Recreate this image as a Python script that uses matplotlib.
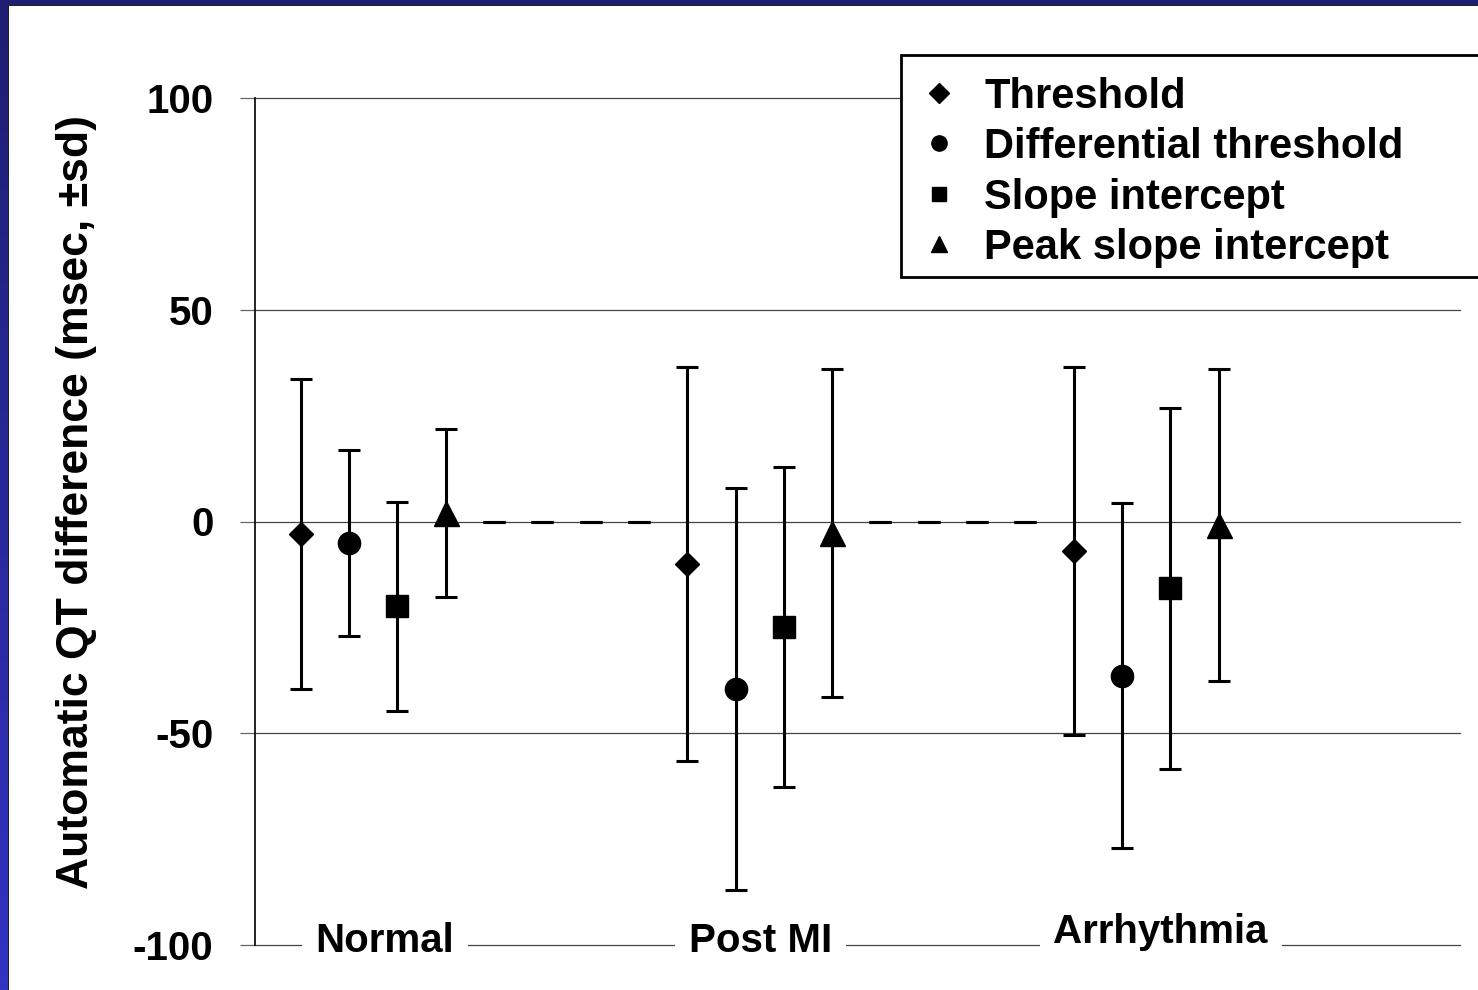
import numpy as np
import matplotlib
matplotlib.use("Agg")
import matplotlib.pyplot as plt
from matplotlib.lines import Line2D
from matplotlib.patches import Rectangle

plt.rcParams["font.family"] = ["Liberation Sans", "DejaVu Sans"]
plt.rcParams["font.weight"] = "bold"
plt.rcParams["axes.unicode_minus"] = False

# groups and methods
groups = ["Normal", "Post MI", "Arrhythmia"]
methods = ["Threshold", "Differential threshold", "Slope intercept", "Peak slope intercept"]
markers = ["D", "o", "s", "^"]
marker_sizes = [12.5, 16, 16, 18]

# mean and sd per method, one value per group (msec)
threshold_mean = [-3, -10, -7]
threshold_sd = [36.6, 46.5, 43.5]
diff_threshold_mean = [-5, -39.6, -36.4]
diff_threshold_sd = [22, 47.4, 40.7]
slope_mean = [-20, -25, -15.8]
slope_sd = [24.7, 37.8, 42.6]
peak_slope_mean = [2, -2.8, -0.9]
peak_slope_sd = [19.9, 38.7, 36.8]

means = [threshold_mean, diff_threshold_mean, slope_mean, peak_slope_mean]
sds = [threshold_sd, diff_threshold_sd, slope_sd, peak_slope_sd]

# empty (blank) series between groups, plotted as zero with zero sd
blank_mean = [0, 0, 0, 0]
blank_sd = [0, 0, 0, 0]

SLOTS_PER_GROUP = 8
W, H = 1478, 990

fig = plt.figure(figsize=(W / 100, H / 100), dpi=100)
fig.patch.set_facecolor("white")

# blue slide frame (top band + left gradient band)
fig.patches.append(Rectangle((0, 1 - 5 / H), 1, 5 / H, transform=fig.transFigure,
                             facecolor="#1e1e72", edgecolor="none", zorder=0))
grad = np.linspace(0, 1, H)[:, None]
top_c = np.array([0x1e, 0x1e, 0x72]) / 255
bot_c = np.array([0x33, 0x33, 0xc4]) / 255
band = top_c + (bot_c - top_c) * grad
band = np.repeat(band[:, None, :], 8, axis=1)
fig.figimage(band[::-1], xo=0, yo=0, origin="lower", zorder=0)
fig.patches.append(Rectangle((8 / W, 0), 1 / W, 1 - 4 / H, transform=fig.transFigure,
                             facecolor="#222222", edgecolor="none", zorder=1))
fig.patches.append(Rectangle((8 / W, 1 - 6 / H), 1 - 8 / W, 1 / H, transform=fig.transFigure,
                             facecolor="#222222", edgecolor="none", zorder=1))

ax = fig.add_axes([255 / W, 45 / H, (1460 - 255) / W, (945 - 98) / H])

err_kw = dict(ecolor="black", elinewidth=2.2, capsize=8, capthick=2.2)

for gi, g in enumerate(groups):
    base = gi * SLOTS_PER_GROUP
    for mi in range(len(methods)):
        ax.errorbar([base + mi], [means[mi][gi]], yerr=[sds[mi][gi]],
                    fmt=markers[mi], color="black", ms=marker_sizes[mi],
                    zorder=3, **err_kw)
    if gi < len(groups) - 1:
        xs = [base + 4 + k for k in range(len(blank_mean))]
        ax.errorbar(xs, blank_mean, yerr=blank_sd, fmt="none", zorder=3, **err_kw)

ax.set_xlim(-0.95, 24.0)
ax.set_ylim(-100, 100)
ax.set_yticks([-100, -50, 0, 50, 100])
ax.set_xticks([])
ax.yaxis.grid(True, color="#444444", linewidth=0.9)
ax.set_axisbelow(True)
for gl in ax.get_ygridlines():
    gl.set_clip_on(False)
for side in ["top", "right", "bottom"]:
    ax.spines[side].set_visible(False)
ax.spines["left"].set_linewidth(1.2)
ax.tick_params(axis="y", length=11, width=0.9, color="#666666", pad=19,
               labelsize=29)
ax.tick_params(axis="x", length=0)
for lbl in ax.get_yticklabels():
    lbl.set_fontweight("bold")

# group labels sitting on the bottom gridline
label_x = [1.74, 9.51, 17.8]
label_y = [-99, -99, -97]
for g, lx, ly in zip(groups, label_x, label_y):
    ax.text(lx, ly, g, ha="center", va="center", fontsize=29, fontweight="bold",
            bbox=dict(facecolor="white", edgecolor="none", pad=10), zorder=4,
            clip_on=False)

fig.text(77 / W, 1 - 502 / H, "Automatic QT difference (msec, \u00b1sd)",
         rotation=90, ha="center", va="center", fontsize=32, fontweight="bold")

# legend box drawn separately so it can run off the right edge like the slide
fig.patches.append(Rectangle((901 / W, 1 - 277 / H), 600 / W, 222 / H,
                             transform=fig.transFigure, facecolor="white",
                             edgecolor="black", linewidth=2, zorder=4))
handles = [Line2D([], [], marker=m, ls="none", color="black", ms=s)
           for m, s in zip(markers, [10, 11, 10, 11])]
leg = fig.legend(handles, methods, loc="upper left",
                 bbox_to_anchor=(901 / W, 1 - 60 / H), fontsize=30,
                 frameon=False, handlelength=1.0, handletextpad=0.6,
                 labelspacing=0.25, borderpad=0.4, borderaxespad=0)
leg.set_zorder(5)
for t in leg.get_texts():
    t.set_fontweight("bold")

fig.savefig("out.png", dpi=100, facecolor=fig.get_facecolor())
